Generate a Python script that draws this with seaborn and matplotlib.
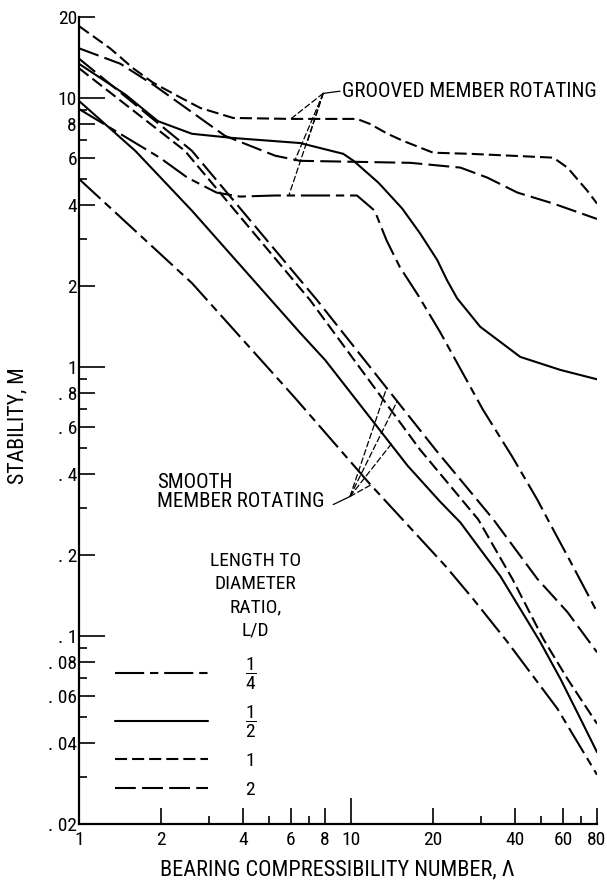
import matplotlib
matplotlib.use("Agg")
import matplotlib.pyplot as plt
import seaborn as sns
import pandas as pd
from matplotlib.lines import Line2D
from matplotlib.ticker import FixedLocator, FixedFormatter, NullFormatter
from matplotlib import font_manager as fm

# ---------------- data ----------------
# Grooved member rotating
grooved_q_lam = [1, 1.98, 2.5, 3.2, 3.9, 5.26, 7.0, 10.5, 12.2, 13.5, 15.1, 17.6, 21.2, 30.5, 39.0, 48.3, 53.5, 65.2, 80]
grooved_q_m = [9.1, 6.0, 5.06, 4.45, 4.3, 4.34, 4.34, 4.34, 3.81, 2.95, 2.35, 1.85, 1.35, 0.693, 0.465, 0.321, 0.264, 0.182, 0.123]

grooved_h_lam = [1, 1.48, 1.95, 2.6, 3.68, 6.49, 9.35, 10.2, 12.6, 15.4, 17.9, 20.7, 22.5, 24.5, 29.8, 41.8, 58.7, 80]
grooved_h_m = [13.4, 10.3, 8.2, 7.36, 7.1, 6.8, 6.2, 5.84, 4.84, 3.88, 3.14, 2.5, 2.1, 1.8, 1.41, 1.09, 0.975, 0.9]

grooved_1_lam = [1, 1.3, 1.58, 1.87, 2.29, 2.79, 3.68, 5.97, 10.5, 11.75, 13.6, 15.5, 20.0, 27.4, 55.3, 62.3, 73.7, 80]
grooved_1_m = [18.5, 15.3, 12.9, 11.4, 10.2, 9.18, 8.43, 8.36, 8.36, 8.0, 7.36, 6.93, 6.26, 6.2, 6.0, 5.51, 4.52, 4.05]

grooved_2_lam = [1, 1.42, 1.9, 2.56, 3.44, 5.26, 6.49, 16.5, 25.2, 31.6, 40.8, 55.3, 80]
grooved_2_m = [15.3, 13.4, 11.1, 8.95, 7.23, 6.1, 5.84, 5.74, 5.51, 5.06, 4.45, 4.05, 3.55]

# Smooth member rotating
smooth_q_lam = [1, 2.6, 6.22, 11.75, 22.2, 28.1, 37.5, 57.2, 80]
smooth_q_m = [5.0, 2.05, 0.767, 0.366, 0.182, 0.137, 0.095, 0.0537, 0.0305]

smooth_h_lam = [1, 1.61, 2.6, 6.49, 8.03, 16.1, 21.2, 25.2, 29.8, 35.3, 41.8, 49.5, 58.7, 69.5, 80]
smooth_h_m = [9.75, 6.36, 3.81, 1.34, 1.06, 0.43, 0.316, 0.264, 0.21, 0.167, 0.126, 0.095, 0.0693, 0.0493, 0.037]

smooth_1_lam = [1, 2.45, 7.07, 17.9, 29.3, 39.1, 50.8, 62.3, 80]
smooth_1_m = [12.9, 6.36, 1.77, 0.493, 0.271, 0.163, 0.0975, 0.0693, 0.0472]

smooth_2_lam = [1, 2.6, 7.5, 20.4, 25.2, 33.3, 48.3, 62.3, 80]
smooth_2_m = [14.0, 6.36, 1.77, 0.493, 0.381, 0.271, 0.163, 0.1227, 0.087]

ld_labels = [r"$\dfrac{1}{4}$", r"$\dfrac{1}{2}$", "1", "2"]

y_major = [0.02, 0.04, 0.06, 0.08, 0.1, 0.2, 0.4, 0.6, 0.8, 1, 2, 4, 6, 8, 10, 20]
y_major_labels = [". 02", ". 04", ". 06", ". 08", ". 1", ". 2", ". 4", ". 6", ". 8",
                  "1", "2", "4", "6", "8", "10", "20"]
y_minor = [0.03, 0.05, 0.07, 0.09, 0.3, 0.5, 0.7, 0.9, 3, 5, 7, 9]
x_major = [1, 2, 4, 6, 8, 10, 20, 40, 60, 80]
x_major_labels = ["1", "2", "4", "6", "8", "10", "20", "40", "60", "80"]
x_minor = [3, 5, 7, 30, 50, 70]

# ---------------- style ----------------
sns.set_style("ticks")
names = {f.name for f in fm.fontManager.ttflist}
FONT, TXT, TICK = "DejaVu Sans", 12.5, 12
for cand, t1, t2 in [("Liberation Sans Narrow", 15, 14), ("Roboto Condensed", 15, 14),
                     ("Open Sans Condensed", 14, 13), ("Roboto", 13.5, 13),
                     ("Liberation Sans", 12.5, 12.5)]:
    if cand in names:
        FONT, TXT, TICK = cand, t1, t2
        break
plt.rcParams["font.family"] = [FONT, "DejaVu Sans"]
plt.rcParams["mathtext.fontset"] = "custom"
plt.rcParams["mathtext.rm"] = FONT
plt.rcParams["mathtext.it"] = FONT
for k in ("text.color", "axes.labelcolor", "xtick.color", "ytick.color", "axes.edgecolor"):
    plt.rcParams[k] = "black"

LW = 1.5
LS = {
    "q": (0, (14.0, 2.8, 4.0, 2.8)),
    "h": "-",
    "1": (0, (5.8, 2.4)),
    "2": (0, (10.0, 3.0)),
}

fig = plt.figure(figsize=(6.07, 8.85), dpi=100)
ax = fig.add_axes([79 / 607, 61 / 885, 518 / 607, 807 / 885])
ax.set_xscale("log")
ax.set_yscale("log")

curves = [
    (grooved_q_lam, grooved_q_m, "q"),
    (grooved_h_lam, grooved_h_m, "h"),
    (grooved_1_lam, grooved_1_m, "1"),
    (grooved_2_lam, grooved_2_m, "2"),
    (smooth_q_lam, smooth_q_m, "q"),
    (smooth_h_lam, smooth_h_m, "h"),
    (smooth_1_lam, smooth_1_m, "1"),
    (smooth_2_lam, smooth_2_m, "2"),
]
for lam, m, key in curves:
    df = pd.DataFrame({"lam": lam, "m": m})
    sns.lineplot(data=df, x="lam", y="m", ax=ax, color="black", linewidth=LW,
                 linestyle=LS[key], estimator=None, sort=False, legend=False)

ax.set_xlim(1, 80)
ax.set_ylim(0.02, 20)
sns.despine(ax=ax)
for s in ("left", "bottom"):
    ax.spines[s].set_linewidth(1.6)

ax.yaxis.set_major_locator(FixedLocator(y_major))
ax.yaxis.set_major_formatter(FixedFormatter(y_major_labels))
ax.yaxis.set_minor_locator(FixedLocator(y_minor))
ax.yaxis.set_minor_formatter(NullFormatter())
ax.xaxis.set_major_locator(FixedLocator(x_major))
ax.xaxis.set_major_formatter(FixedFormatter(x_major_labels))
ax.xaxis.set_minor_locator(FixedLocator(x_minor))
ax.xaxis.set_minor_formatter(NullFormatter())

ax.tick_params(axis="both", which="major", direction="in", length=11.5, width=1.2,
               labelsize=TICK, color="black", labelcolor="black")
ax.tick_params(axis="both", which="minor", direction="in", length=5.5, width=1.2,
               color="black")
ax.tick_params(axis="y", which="major", pad=1.5)
ax.tick_params(axis="x", which="major", pad=5)

ax.set_xlabel("BEARING COMPRESSIBILITY NUMBER, Λ", fontsize=TXT * 1.07)
ax.set_ylabel("STABILITY, M", fontsize=TXT * 1.05)
ax.xaxis.set_label_coords(0.498, -0.044)
ax.yaxis.set_label_coords(-0.098, 0.494)

# ---------------- annotations ----------------
leader = dict(arrowstyle="-", linestyle=(0, (4.5, 2.5)), lw=0.9, color="black",
              shrinkA=0, shrinkB=0)
solid_leader = dict(arrowstyle="-", lw=0.9, color="black", shrinkA=0, shrinkB=0)

ax.annotate("GROOVED MEMBER ROTATING", xy=(9.26, 10.6), ha="left", va="center",
            fontsize=TXT)
ax.annotate("", xy=(7.89, 10.4), xytext=(9.1, 10.6), arrowprops=solid_leader)
for tgt in [(6.0, 8.36), (6.9, 6.85), (6.2, 5.84), (5.9, 4.34)]:
    ax.annotate("", xy=tgt, xytext=(7.89, 10.4), arrowprops=leader)

ax.annotate("SMOOTH\nMEMBER ROTATING", xy=(1.93, 0.343), ha="left", va="center",
            fontsize=TXT, linespacing=1.05)
ax.annotate("", xy=(9.9, 0.33), xytext=(8.59, 0.308), arrowprops=solid_leader)
for tgt in [(13.5, 0.836), (14.7, 0.74), (14.1, 0.52), (11.9, 0.366)]:
    ax.annotate("", xy=tgt, xytext=(9.9, 0.33), arrowprops=leader)

ax.annotate("LENGTH TO\nDIAMETER\nRATIO,\nL/D", xy=(4.44, 0.141), ha="center",
            va="center", fontsize=TICK, linespacing=1.38)

handles = [Line2D([], [], color="black", lw=LW, linestyle=LS[k]) for k in ["q", "h", "1", "2"]]
leg = ax.legend(handles, ld_labels, loc="upper left", bbox_to_anchor=(0.0695, 0.208),
                frameon=False, handlelength=4.8, handletextpad=1.9, labelspacing=0.6,
                fontsize=TICK, borderpad=0, borderaxespad=0)

fig.canvas.draw()
# individual tick lengths (decade ticks longer, corner ticks hidden)
for t, v in zip(ax.yaxis.get_major_ticks(), y_major):
    if v in (0.1, 1, 10):
        t.tick1line.set_markersize(19)
    if v == 0.02:
        t.tick1line.set_markersize(0)
for t, v in zip(ax.xaxis.get_major_ticks(), x_major):
    if v == 10:
        t.tick1line.set_markersize(19)
    if v == 1:
        t.tick1line.set_markersize(0)

fig.savefig("out.png", dpi=100)
